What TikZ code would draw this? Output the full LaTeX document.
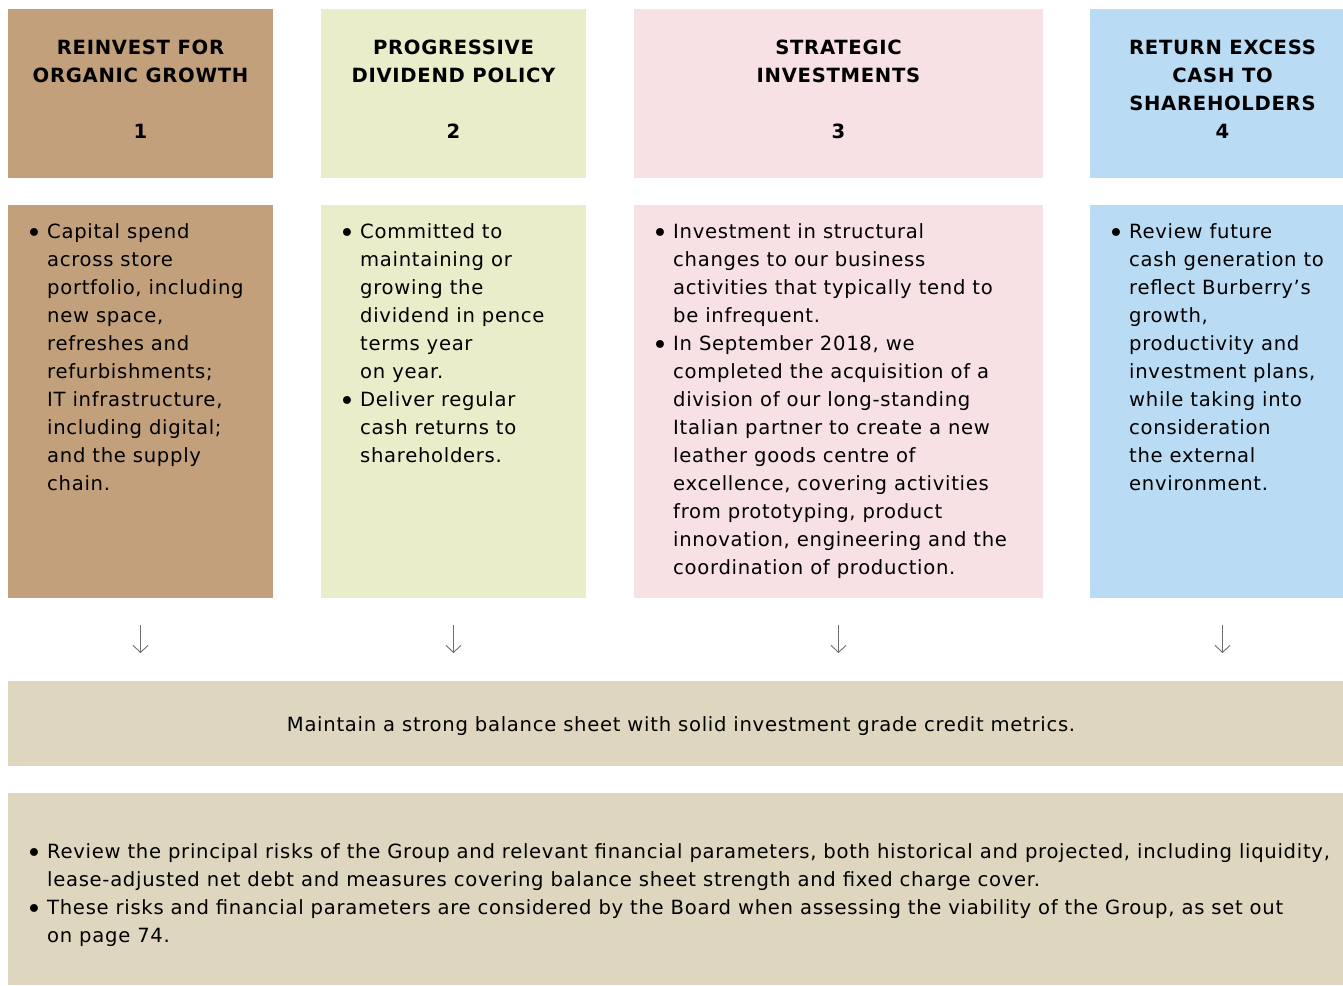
\documentclass[tikz,border=0pt]{standalone}
\usepackage{fontspec}
\setmainfont{DejaVu Sans}[LetterSpace=3.6]
\usetikzlibrary{arrows.meta}
\definecolor{tanbox}{HTML}{C2A07C}
\definecolor{greenbox}{HTML}{E9EDC9}
\definecolor{pinkbox}{HTML}{F7E1E4}
\definecolor{bluebox}{HTML}{B9DCF4}
\definecolor{sandbox}{HTML}{DED6BE}
\definecolor{arrowgray}{HTML}{6E6E6E}
\newcommand{\bl}{\strut\makebox[21pt][l]{\fontsize{27}{28}\selectfont\raisebox{-4.5pt}{•}}}
\newcommand{\cl}{\strut\hspace*{21pt}}
\begin{document}
\begin{tikzpicture}[x=1pt,y=-1pt,
  panel/.style={rectangle, draw=none, inner sep=0pt, outer sep=0pt},
  headtext/.style={inner sep=0pt, anchor=north, align=center,
    font=\fontsize{19.6}{28}\selectfont\bfseries},
  bodytext/.style={inner sep=0pt, anchor=north west, align=left,
    font=\fontsize{19.6}{28}\selectfont},
  flow/.style={draw=arrowgray, line width=1pt,
    -{Straight Barb[length=7pt,width=15pt,line width=0.9pt]},
    shorten <=27pt, shorten >=28pt}]
\useasboundingbox (0,0) rectangle (1343,985);
\clip (0,0) rectangle (1343,985);

% heading panels
\node[panel, fill=tanbox,   minimum width=265pt, minimum height=169pt] (h1) at (140.5,93.5) {};
\node[panel, fill=greenbox, minimum width=265pt, minimum height=169pt] (h2) at (453.5,93.5) {};
\node[panel, fill=pinkbox,  minimum width=409pt, minimum height=169pt] (h3) at (838.5,93.5) {};
\node[panel, fill=bluebox,  minimum width=265pt, minimum height=169pt] (h4) at (1222.5,93.5) {};

% detail panels
\node[panel, fill=tanbox,   minimum width=265pt, minimum height=393pt] (d1) at (140.5,401.5) {};
\node[panel, fill=greenbox, minimum width=265pt, minimum height=393pt] (d2) at (453.5,401.5) {};
\node[panel, fill=pinkbox,  minimum width=409pt, minimum height=393pt] (d3) at (838.5,401.5) {};
\node[panel, fill=bluebox,  minimum width=265pt, minimum height=393pt] (d4) at (1222.5,401.5) {};

% balance sheet band and risk panel
\node[panel, fill=sandbox, minimum width=1346pt, minimum height=85pt] (band) at (681,723.5) {};
\node[panel, fill=sandbox, minimum width=1346pt, minimum height=192pt] (risk) at (681,889) {};

% headings
\node[headtext] (t1) at (140.5,34.4) {\strut REINVEST FOR\\\strut ORGANIC GROWTH\\\strut\\\strut 1};
\node[headtext] (t2) at (453.5,34.4) {\strut PROGRESSIVE\\\strut DIVIDEND POLICY\\\strut\\\strut 2};
\node[headtext] (t3) at (838.5,34.4) {\strut STRATEGIC\\\strut INVESTMENTS\\\strut\\\strut 3};
\node[headtext] (t4) at (1222.5,34.4) {\strut RETURN EXCESS\\\strut CASH TO\\\strut SHAREHOLDERS\\\strut 4};

% detail texts
\node[bodytext] (p1) at (26,218.4) {%
\bl Capital spend\\
\cl across store\\
\cl portfolio, including\\
\cl new space,\\
\cl refreshes and\\
\cl refurbishments;\\
\cl IT infrastructure,\\
\cl including digital;\\
\cl and the supply\\
\cl chain.};

\node[bodytext] (p2) at (339,218.4) {%
\bl Committed to\\
\cl maintaining or\\
\cl growing the\\
\cl dividend in pence\\
\cl terms year\\
\cl on year.\\
\bl Deliver regular\\
\cl cash returns to\\
\cl shareholders.};

\node[bodytext] (p3) at (652,218.4) {%
\bl Investment in structural\\
\cl changes to our business\\
\cl activities that typically tend to\\
\cl be infrequent.\\
\bl In September 2018, we\\
\cl completed the acquisition of a\\
\cl division of our long-standing\\
\cl Italian partner to create a new\\
\cl leather goods centre of\\
\cl excellence, covering activities\\
\cl from prototyping, product\\
\cl innovation, engineering and the\\
\cl coordination of production.};

\node[bodytext] (p4) at (1108,218.4) {%
\bl Review future\\
\cl cash generation to\\
\cl reflect Burberry’s\\
\cl growth,\\
\cl productivity and\\
\cl investment plans,\\
\cl while taking into\\
\cl consideration\\
\cl the external\\
\cl environment.};

% arrows into the balance sheet band
\draw[flow] (d1.south) -- (d1.south |- band.north);
\draw[flow] (d2.south) -- (d2.south |- band.north);
\draw[flow] (d3.south) -- (d3.south |- band.north);
\draw[flow] (d4.south) -- (d4.south |- band.north);

% band text
\node[inner sep=0pt, font=\fontsize{19.6}{28}\selectfont] (bt) at ([yshift=-3pt]band.center) {Maintain a strong balance sheet with solid investment grade credit metrics.};

% risk review text
\node[bodytext] (rt) at (26,838.4) {%
\bl Review the principal risks of the Group and relevant financial parameters, both historical and projected, including liquidity,\\
\cl lease-adjusted net debt and measures covering balance sheet strength and fixed charge cover.\\
\bl These risks and financial parameters are considered by the Board when assessing the viability of the Group, as set out\\
\cl on page 74.};
\end{tikzpicture}
\end{document}
